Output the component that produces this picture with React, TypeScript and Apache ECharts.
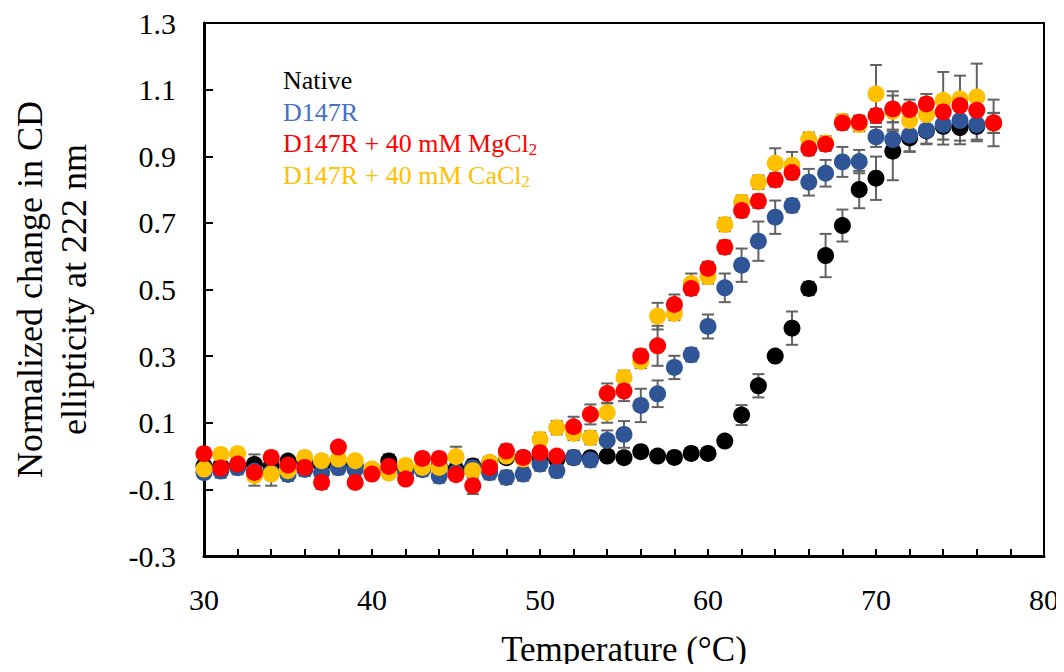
import React, { useEffect, useRef } from 'react';
import * as echarts from 'echarts';

const temperatures = [30, 31, 32, 33, 34, 35, 36, 37, 38, 39, 40, 41, 42, 43, 44, 45, 46, 47, 48, 49, 50, 51, 52, 53, 54, 55, 56, 57, 58, 59, 60, 61, 62, 63, 64, 65, 66, 67, 68, 69, 70, 71, 72, 73, 74, 75, 76, 77];

const nativeVals = [-0.03, -0.03, -0.03, -0.025, -0.03, -0.015, -0.02, -0.03, -0.025, -0.03, -0.04, -0.015, -0.04, -0.04, -0.03, -0.04, -0.03, -0.02, -0.005, -0.005, -0.01, -0.01, -0.005, -0.005, 0.0, -0.005, 0.013, 0.0, -0.004, 0.008, 0.008, 0.045, 0.123, 0.211, 0.3, 0.384, 0.503, 0.602, 0.692, 0.8, 0.834, 0.915, 0.955, 0.976, 0.99, 0.986, 0.99, 1.0];
const nativeErr = [0.015, 0.015, 0.015, 0.03, 0.015, 0.015, 0.015, 0.015, 0.015, 0.015, 0.015, 0.02, 0.015, 0.015, 0.015, 0.015, 0.02, 0.015, 0.015, 0.015, 0.015, 0.015, 0.015, 0.015, 0.015, 0.015, 0.015, 0.015, 0.015, 0.015, 0.015, 0.015, 0.03, 0.035, 0.015, 0.05, 0.02, 0.065, 0.048, 0.056, 0.065, 0.087, 0.04, 0.04, 0.04, 0.05, 0.04, 0.03];

const d147rVals = [-0.05, -0.045, -0.035, -0.045, -0.05, -0.055, -0.04, -0.05, -0.035, -0.04, -0.05, -0.045, -0.05, -0.04, -0.06, -0.05, -0.035, -0.05, -0.064, -0.054, -0.024, -0.044, -0.004, -0.012, 0.047, 0.065, 0.152, 0.187, 0.266, 0.304, 0.389, 0.505, 0.573, 0.645, 0.717, 0.752, 0.822, 0.849, 0.883, 0.884, 0.958, 0.95, 0.963, 0.978, 0.995, 1.007, 0.995, 1.0];
const d147rErr = [0.015, 0.02, 0.02, 0.02, 0.02, 0.02, 0.02, 0.02, 0.02, 0.02, 0.02, 0.02, 0.02, 0.02, 0.02, 0.02, 0.02, 0.02, 0.02, 0.02, 0.02, 0.02, 0.02, 0.02, 0.03, 0.04, 0.05, 0.04, 0.035, 0.02, 0.036, 0.043, 0.05, 0.059, 0.05, 0.02, 0.04, 0.04, 0.045, 0.035, 0.03, 0.03, 0.05, 0.04, 0.06, 0.06, 0.05, 0.03];

const mgVals = [0.007, -0.036, -0.024, -0.049, -0.004, -0.027, -0.034, -0.079, 0.027, -0.079, -0.054, -0.031, -0.069, -0.007, -0.007, -0.056, -0.089, -0.034, 0.015, -0.004, 0.01, 0.0, 0.088, 0.125, 0.188, 0.195, 0.3, 0.331, 0.455, 0.503, 0.563, 0.627, 0.737, 0.765, 0.829, 0.851, 0.923, 0.936, 1.0, 1.002, 1.022, 1.042, 1.04, 1.057, 1.033, 1.052, 1.038, 1.0];
const mgErr = [0.015, 0.015, 0.015, 0.015, 0.015, 0.015, 0.015, 0.02, 0.015, 0.015, 0.015, 0.015, 0.015, 0.015, 0.015, 0.015, 0.025, 0.015, 0.02, 0.015, 0.015, 0.015, 0.03, 0.03, 0.03, 0.03, 0.02, 0.06, 0.03, 0.02, 0.02, 0.02, 0.02, 0.02, 0.02, 0.02, 0.02, 0.02, 0.02, 0.02, 0.02, 0.04, 0.03, 0.03, 0.03, 0.03, 0.04, 0.07];

const caVals = [-0.039, 0.005, 0.007, -0.059, -0.054, -0.044, -0.004, -0.014, -0.009, -0.014, -0.039, -0.051, -0.028, -0.034, -0.034, -0.002, -0.044, -0.019, 0.0, -0.009, 0.05, 0.085, 0.068, 0.055, 0.13, 0.236, 0.284, 0.42, 0.428, 0.518, 0.538, 0.695, 0.762, 0.822, 0.879, 0.873, 0.951, 0.94, 1.005, 0.995, 1.087, 1.035, 1.007, 1.025, 1.068, 1.072, 1.078, 1.0];
const caErr = [0.015, 0.015, 0.015, 0.03, 0.035, 0.015, 0.015, 0.015, 0.015, 0.015, 0.015, 0.015, 0.015, 0.015, 0.015, 0.03, 0.02, 0.015, 0.015, 0.015, 0.02, 0.02, 0.02, 0.02, 0.03, 0.02, 0.02, 0.04, 0.02, 0.03, 0.02, 0.02, 0.02, 0.02, 0.045, 0.04, 0.02, 0.02, 0.02, 0.02, 0.087, 0.06, 0.05, 0.05, 0.085, 0.07, 0.1, 0.03];

const seriesNames = ['Native', 'D147R', 'D147R + 40 mM MgCl2', 'D147R + 40 mM CaCl2'];
const markerColors = ['#000000', '#2F5597', '#FF0000', '#FFC000'];
const legendColors = ['#000000', '#4472C4', '#FF0000', '#FFC000'];

const yTicks = [-0.3, -0.1, 0.1, 0.3, 0.5, 0.7, 0.9, 1.1, 1.3];
const xTicks = [30, 40, 50, 60, 70, 80];

const FONT = 'Liberation Serif';

export default function App() {
  const ref = useRef<HTMLDivElement>(null);

  useEffect(() => {
    if (!ref.current) return;
    const chart = echarts.init(ref.current, undefined, { renderer: 'svg' });

    const allVals = [nativeVals, d147rVals, mgVals, caVals];
    const allErr = [nativeErr, d147rErr, mgErr, caErr];

    const errorSeries = allVals.map((vals, si) => ({
      type: 'custom',
      name: seriesNames[si] + ' error',
      z: 1,
      silent: true,
      encode: { x: 0, y: 1 },
      data: temperatures.map((t, i) => [t, vals[i], allErr[si][i]]),
      renderItem: (params: any, api: any) => {
        const x = api.value(0);
        const y = api.value(1);
        const e = api.value(2);
        const top = api.coord([x, y + e]);
        const bot = api.coord([x, y - e]);
        const half = 6;
        const st = { stroke: '#636363', lineWidth: 2 };
        return {
          type: 'group',
          children: [
            { type: 'line', shape: { x1: top[0], y1: top[1], x2: bot[0], y2: bot[1] }, style: st },
            { type: 'line', shape: { x1: top[0] - half, y1: top[1], x2: top[0] + half, y2: top[1] }, style: st },
            { type: 'line', shape: { x1: bot[0] - half, y1: bot[1], x2: bot[0] + half, y2: bot[1] }, style: st },
          ],
        };
      },
    }));

    // drawing order: black, blue, yellow, red (red on top)
    const drawOrder = [0, 1, 3, 2];
    const scatterSeries = drawOrder.map((si, k) => ({
      type: 'scatter',
      name: seriesNames[si],
      z: 3 + k,
      symbol: 'circle',
      symbolSize: 17,
      itemStyle: { color: markerColors[si], opacity: 1 },
      data: temperatures.map((t, i) => [t, allVals[si][i]]),
    }));

    const legendTexts = [
      { text: '{a|Native}', color: legendColors[0], y: 80 },
      { text: '{a|D147R}', color: legendColors[1], y: 112 },
      { text: '{a|D147R + 40 mM MgCl}{s|2}', color: legendColors[2], y: 143 },
      { text: '{a|D147R + 40 mM CaCl}{s|2}', color: legendColors[3], y: 175 },
    ];

    chart.setOption({
      animation: false,
      backgroundColor: '#ffffff',
      textStyle: { fontFamily: FONT },
      grid: {
        left: 200,
        right: 20,
        top: 23,
        bottom: 113,
        show: true,
        borderColor: '#000',
        borderWidth: 2,
        backgroundColor: 'transparent',
      },
      xAxis: {
        type: 'value',
        min: xTicks[0],
        max: xTicks[xTicks.length - 1],
        interval: 10,
        name: 'Temperature (°C)',
        nameLocation: 'middle',
        nameGap: 76,
        nameTextStyle: { fontFamily: FONT, fontSize: 35, color: '#000' },
        axisLine: { show: true, onZero: false, lineStyle: { color: '#000', width: 3 } },
        axisTick: { show: true, inside: true, length: 7, lineStyle: { color: '#000', width: 2 } },
        minorTick: { show: true, splitNumber: 5, length: 7, lineStyle: { color: '#000', width: 2 } },
        axisLabel: { fontFamily: FONT, fontSize: 30, color: '#000', margin: 28 },
        splitLine: { show: false },
      },
      yAxis: {
        type: 'value',
        min: yTicks[0],
        max: yTicks[yTicks.length - 1],
        interval: 0.2,
        name: 'Normalized change in CD\nellipticity at 222 nm',
        nameLocation: 'middle',
        nameGap: 108,
        nameRotate: 90,
        nameTextStyle: { fontFamily: FONT, fontSize: 36, color: '#000', lineHeight: 44 },
        axisLine: { show: true, onZero: false, lineStyle: { color: '#000', width: 3 } },
        axisTick: { show: true, inside: true, length: 9, lineStyle: { color: '#000', width: 2 } },
        axisLabel: {
          fontFamily: FONT,
          fontSize: 30,
          color: '#000',
          margin: 28,
          formatter: (v: number) => v.toFixed(1),
        },
        splitLine: { show: false },
      },
      graphic: legendTexts.map((l) => ({
        type: 'text',
        x: 283,
        y: l.y,
        z: 100,
        style: {
          text: l.text,
          verticalAlign: 'middle',
          align: 'left',
          fill: l.color,
          rich: {
            a: { fontFamily: FONT, fontSize: 26, lineHeight: 30, fill: l.color, color: l.color },
            s: { fontFamily: FONT, fontSize: 17, lineHeight: 14, verticalAlign: 'bottom', fill: l.color, color: l.color },
          },
        },
      })),
      series: [...errorSeries, ...scatterSeries],
    });

    return () => chart.dispose();
  }, []);

  return <div ref={ref} style={{ width: 1064, height: 672, margin: -8 }} />;
}
